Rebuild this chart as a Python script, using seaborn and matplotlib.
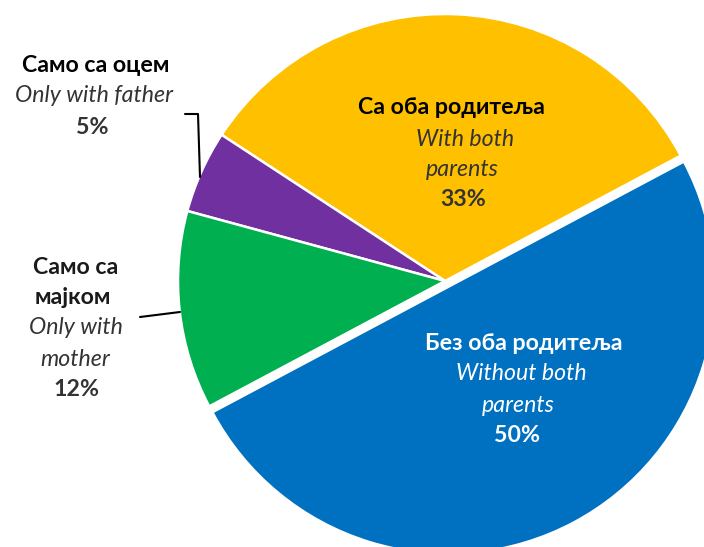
import matplotlib
matplotlib.use("Agg")
import matplotlib.pyplot as plt
import seaborn as sns
from matplotlib.lines import Line2D

# ---- data ----
categories_sr = ["Са оба родитеља", "Само са оцем", "Само са\nмајком", "Без оба родитеља"]
categories_en = ["With both\nparents", "Only with father", "Only with\nmother", "Without both\nparents"]
values = [33, 5, 12, 50]
colors = ["#FFC000", "#7030A0", "#00B050", "#0070C0"]

sns.set_theme(style="white")
plt.rcParams["font.family"] = ["Lato", "Noto Sans", "DejaVu Sans"]

W, H = 704, 547
fig = plt.figure(figsize=(W / 100, H / 100), dpi=100)
ax = fig.add_axes([0, 0, 1, 1])

CX, CY, R = 445, 281, 267  # pie centre / radius in pixels

ax.pie(values, colors=colors, startangle=28, counterclock=True,
       explode=[0, 0, 0, 0.025], radius=1, center=(0, 0),
       wedgeprops=dict(edgecolor="white", linewidth=1.8))
ax.set_xlim((0 - CX) / R, (W - CX) / R)
ax.set_ylim((CY - H) / R, (CY - 0) / R)
ax.set_aspect("equal")
ax.axis("off")

FS = 16.7

def txt(x, y, s, bold=False, italic=False, color="#000000"):
    fig.text(x / W, 1 - y / H, s, ha="center", va="center", fontsize=FS,
             fontweight="bold" if bold else "normal",
             fontstyle="italic" if italic else "normal", color=color)

# yellow
txt(451, 108, categories_sr[0], bold=True)
txt(465, 139, "With both", italic=True, color="#333333")
txt(462, 170, "parents", italic=True, color="#333333")
txt(463, 199, f"{values[0]}%", bold=True, color="#333333")
# blue
txt(524, 343, categories_sr[3], bold=True, color="white")
txt(521, 374, "Without both", italic=True, color="white")
txt(518, 405, "parents", italic=True, color="white")
txt(517, 436, f"{values[3]}%", bold=True, color="white")
# father
txt(96, 65, categories_sr[1], bold=True)
txt(94, 96, categories_en[1], italic=True, color="#333333")
txt(92, 127, f"{values[1]}%", bold=True, color="#333333")
# mother
txt(76, 267, "Само са", bold=True, color="#1a1a1a")
txt(73, 297, "мајком", bold=True, color="#1a1a1a")
txt(76, 328, "Only with", italic=True, color="#333333")
txt(75, 359, "mother", italic=True, color="#333333")
txt(76, 390, f"{values[2]}%", bold=True, color="#333333")

def line(pts):
    xs = [p[0] / W for p in pts]
    ys = [1 - p[1] / H for p in pts]
    fig.add_artist(Line2D(xs, ys, color="black", linewidth=1.5,
                          transform=fig.transFigure))

line([(185, 114), (198, 114), (200, 177)])
line([(140, 317), (180, 312)])

fig.savefig("out.png", dpi=100)
